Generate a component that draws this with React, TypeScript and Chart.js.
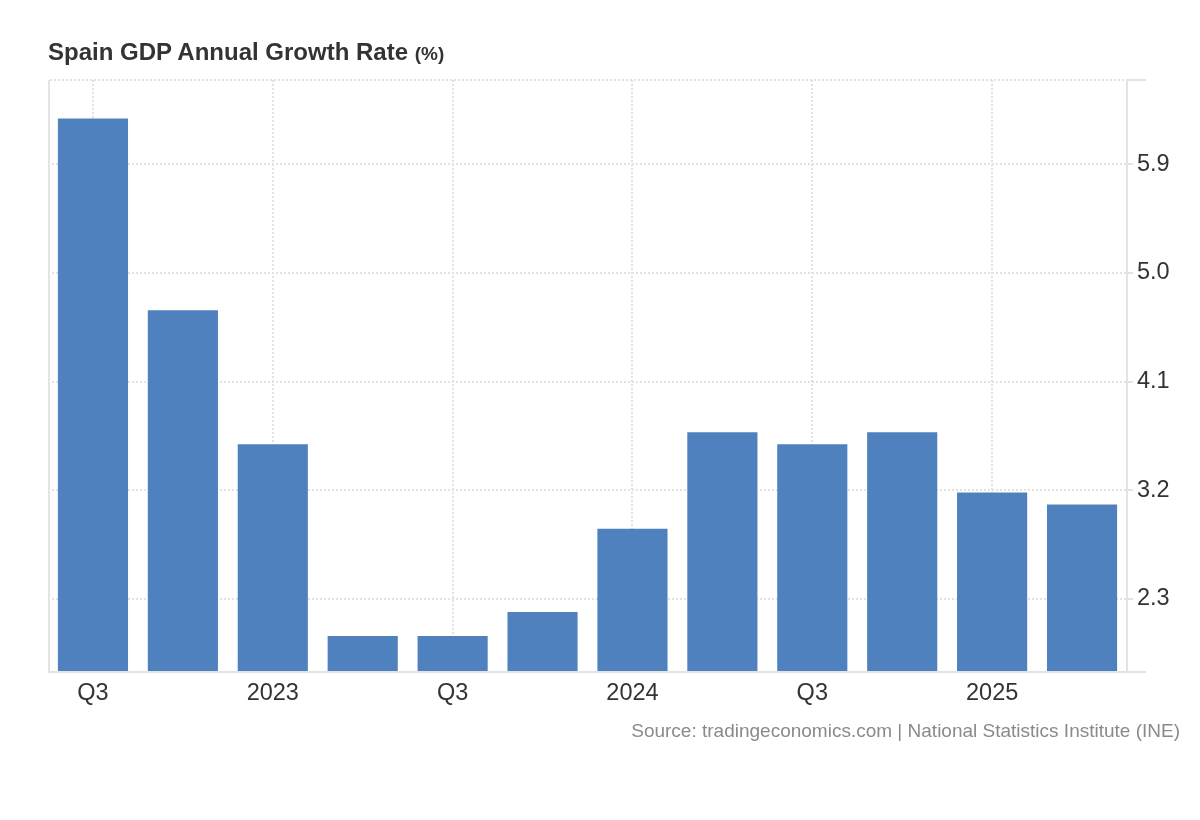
import React, { useEffect, useRef } from "react";
import { Chart, registerables } from "chart.js";

Chart.register(...registerables);

const quarters = [
  "2022 Q3", "2022 Q4", "2023 Q1", "2023 Q2", "2023 Q3", "2023 Q4",
  "2024 Q1", "2024 Q2", "2024 Q3", "2024 Q4", "2025 Q1", "2025 Q2",
];
const growth = [6.28, 4.69, 3.58, 1.99, 1.99, 2.19, 2.88, 3.68, 3.58, 3.68, 3.18, 3.08];
const xTickLabels = ["Q3", "", "2023", "", "Q3", "", "2024", "", "Q3", "", "2025", ""];
const yTicks = [2.3, 3.2, 4.1, 5.0, 5.9];
const yMin = 1.7;
const yMax = 6.6;

const FONT = "'Liberation Sans', Arial, sans-serif";
const GRID = "#e2e2e2";
const FRAME = "#e3e3e3";

const framePlugin = {
  id: "frame",
  afterDraw(chart: any) {
    const { ctx, chartArea } = chart;
    const { left, right, top, bottom } = chartArea;
    ctx.save();
    ctx.strokeStyle = FRAME;
    ctx.lineWidth = 2;
    ctx.beginPath();
    ctx.moveTo(left + 1, top);
    ctx.lineTo(left + 1, bottom);
    ctx.stroke();
    ctx.beginPath();
    ctx.moveTo(left, bottom + 1);
    ctx.lineTo(right + 19, bottom + 1);
    ctx.stroke();
    ctx.beginPath();
    ctx.moveTo(right, top);
    ctx.lineTo(right + 19, top);
    ctx.stroke();
    ctx.strokeStyle = GRID;
    ctx.setLineDash([2, 2]);
    ctx.beginPath();
    ctx.moveTo(left + 2, top);
    ctx.lineTo(right - 2, top);
    ctx.stroke();
    ctx.restore();
  },
};

export default function App() {
  const ref = useRef<HTMLCanvasElement | null>(null);

  useEffect(() => {
    document.body.style.margin = "0";
    const chart = new Chart(ref.current as HTMLCanvasElement, {
      type: "bar",
      data: {
        labels: quarters,
        datasets: [
          {
            data: growth,
            backgroundColor: "#4e81bd",
            borderWidth: 0,
            barPercentage: 1,
            categoryPercentage: 0.78,
          },
        ],
      },
      plugins: [framePlugin],
      options: {
        animation: false,
        responsive: false,
        devicePixelRatio: 1,
        layout: { padding: { left: 48, top: 80, right: 0, bottom: 0 } },
        plugins: { legend: { display: false }, tooltip: { enabled: false }, title: { display: false } },
        scales: {
          x: {
            offset: true,
            grid: {
              offset: false,
              drawTicks: false,
              color: (c: any) => (xTickLabels[c.index] ? GRID : "rgba(0,0,0,0)"),
              lineWidth: 2,
            },
            border: { display: false, dash: [2, 2] },
            ticks: {
              autoSkip: false,
              maxRotation: 0,
              padding: 8,
              color: "#333333",
              font: { family: FONT, size: 23.5 },
              callback: (_v: any, i: number) => xTickLabels[i],
            },
            afterFit: (s: any) => {
              s.height = 149;
            },
          },
          y: {
            position: "right",
            min: yMin,
            max: yMax,
            afterBuildTicks: (s: any) => {
              s.ticks = yTicks.map((v) => ({ value: v }));
            },
            grid: {
              color: GRID,
              lineWidth: 2,
              drawTicks: true,
              tickLength: 6,
              tickColor: FRAME,
              tickWidth: 2,
            },
            border: { display: true, color: FRAME, width: 2, dash: [2, 2] },
            ticks: {
              padding: 4,
              color: "#333333",
              font: { family: FONT, size: 23.5 },
              callback: (v: any) => Number(v).toFixed(1),
            },
            afterFit: (s: any) => {
              s.width = 73;
            },
          },
        },
      } as any,
    });
    return () => chart.destroy();
  }, []);

  return (
    <div style={{ position: "relative", width: 1200, height: 820, background: "#fff" }}>
      <canvas ref={ref} width={1200} height={820} style={{ position: "absolute", left: 0, top: 0 }} />
      <div
        style={{
          position: "absolute",
          left: 48,
          top: 38,
          fontFamily: FONT,
          fontWeight: "bold",
          fontSize: 24,
          lineHeight: "28px",
          color: "#333333",
          whiteSpace: "nowrap",
        }}
      >
        Spain GDP Annual Growth Rate <span style={{ fontSize: 19 }}>(%)</span>
      </div>
      <div
        style={{
          position: "absolute",
          right: 20,
          top: 720,
          fontFamily: FONT,
          fontSize: 19,
          lineHeight: "22px",
          color: "#8a8a8a",
          whiteSpace: "nowrap",
        }}
      >
        Source: tradingeconomics.com | National Statistics Institute (INE)
      </div>
    </div>
  );
}
